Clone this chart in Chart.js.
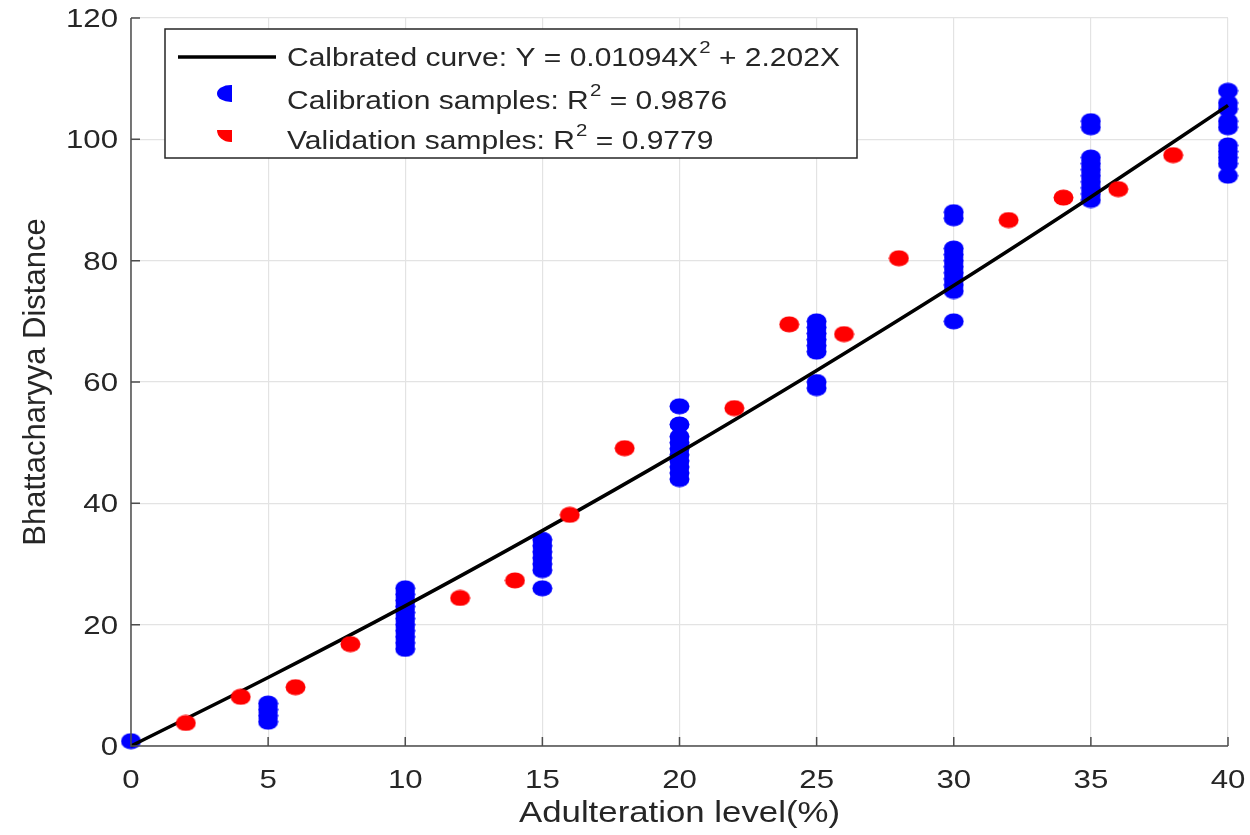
<!DOCTYPE html>
<html>
<head>
<meta charset="utf-8">
<script src="https://cdn.jsdelivr.net/npm/chart.js@4.4.1/dist/chart.umd.min.js"></script>
<style>
  html, body { margin: 0; padding: 0; background: #fff; }
  #wrap { width: 1250px; height: 835px; }
</style>
</head>
<body>
<div id="wrap"><canvas id="graphe"></canvas></div>
<script>
// Calibration samples (blue)
var calX = [0,
  5, 5, 5, 5,
  10, 10, 10, 10, 10, 10, 10, 10, 10, 10, 10,
  15, 15, 15, 15, 15, 15, 15,
  20, 20, 20, 20, 20, 20, 20, 20, 20, 20,
  25, 25, 25, 25, 25, 25, 25, 25,
  30, 30, 30, 30, 30, 30, 30, 30, 30, 30, 30,
  35, 35, 35, 35, 35, 35, 35, 35, 35, 35,
  40, 40, 40, 40, 40, 40, 40, 40, 40, 40];
var calY = [0.8,
  4, 5, 6, 7,
  16, 17, 18, 19, 20, 21, 22, 23, 24, 25, 26,
  34, 33, 32, 31, 30, 29, 26,
  56, 53, 51, 50, 49, 48, 47, 46, 45, 44,
  70, 69, 68, 67, 66, 65, 60, 59,
  88, 87, 82, 81, 80, 79, 78, 77, 76, 75, 70,
  103, 102, 97, 96, 95, 94, 93, 92, 91, 90,
  108, 106, 105, 103, 102, 99, 98, 97, 96, 94];

// Validation samples (red)
var valX = [2, 4, 6, 8, 12, 14, 16, 18, 22, 24, 26, 28, 32, 34, 36, 38];
var valY = [3.8, 8.1, 9.7, 16.8, 24.4, 27.3, 38.1, 49.1, 55.7, 69.5, 67.9, 80.4, 86.7, 90.4, 91.8, 97.4];

// Calibrated curve, values
var curveX = [0, 5, 10, 15, 20, 25, 30, 35, 40];
var curveY = [0, 11.3, 23.1, 35.5, 48.4, 61.9, 75.9, 90.5, 105.6];

var xTicks = [0, 5, 10, 15, 20, 25, 30, 35, 40];
var yTicks = [0, 20, 40, 60, 80, 100, 120];

var xTitle = 'Adulteration level(%)';
var yTitle = 'Bhattacharyya Distance';
var legendLabels = [
  ['Calbrated curve: Y = 0.01094X', '2', ' + 2.202X'],
  ['Calibration samples: R', '2', ' = 0.9876'],
  ['Validation samples: R', '2', ' = 0.9779']
];

var police = '"Liberation Sans", Arial, Helvetica, sans-serif';
var gris = '#262626';
var etire = 1.2; // l'image d'origine est etiree en largeur

// marqueur en ellipse
function ellipse(couleur) {
  var c = document.createElement('canvas');
  c.width = 21; c.height = 17;
  var g = c.getContext('2d');
  g.fillStyle = couleur;
  g.beginPath();
  g.ellipse(10.5, 8.5, 10, 8, 0, 0, Math.PI * 2);
  g.fill();
  return c;
}

function toPoints(xs, ys) {
  return xs.map(function (x, i) { return { x: x, y: ys[i] }; });
}

function texte(ctx, txt, x, y, align) {
  ctx.save();
  ctx.translate(x, y);
  ctx.scale(etire, 1);
  ctx.textAlign = align;
  ctx.fillText(txt, 0, 0);
  ctx.restore();
}

// axes, graduations interieures et libelles facon MATLAB
var axesPlugin = {
  id: 'axesMatlab',
  afterDatasetsDraw: function (chart) {
    var ctx = chart.ctx, a = chart.chartArea;
    var sx = chart.scales.x, sy = chart.scales.y;
    ctx.save();
    ctx.strokeStyle = '#4d4d4d';
    ctx.lineWidth = 1.5;
    ctx.beginPath();
    ctx.moveTo(a.left, a.top);
    ctx.lineTo(a.left, a.bottom);
    ctx.lineTo(a.right, a.bottom);
    xTicks.forEach(function (t) {
      var px = sx.getPixelForValue(t);
      ctx.moveTo(px, a.bottom);
      ctx.lineTo(px, a.bottom - 9);
    });
    yTicks.forEach(function (t) {
      var py = sy.getPixelForValue(t);
      ctx.moveTo(a.left, py);
      ctx.lineTo(a.left + 9, py);
    });
    ctx.stroke();

    ctx.fillStyle = gris;
    ctx.textBaseline = 'alphabetic';
    ctx.font = '26px ' + police;
    xTicks.forEach(function (t) {
      texte(ctx, String(t), sx.getPixelForValue(t), a.bottom + 42, 'center');
    });
    yTicks.forEach(function (t) {
      texte(ctx, String(t), a.left - 13, sy.getPixelForValue(t) + 9, 'right');
    });

    ctx.font = '29px ' + police;
    texte(ctx, xTitle, (a.left + a.right) / 2, 822, 'center');

    ctx.save();
    ctx.translate(45, (a.top + a.bottom) / 2);
    ctx.rotate(-Math.PI / 2);
    ctx.font = '31px ' + police;
    ctx.textAlign = 'center';
    ctx.fillText(yTitle, 0, 0);
    ctx.restore();
    ctx.restore();
  }
};

// legende dans le cadre, avec exposants
var legendePlugin = {
  id: 'legende',
  afterDraw: function (chart) {
    var ctx = chart.ctx;
    var bx = 165, by = 29, bw = 692, bh = 129;
    ctx.save();
    ctx.fillStyle = '#fff';
    ctx.fillRect(bx, by, bw, bh);
    ctx.strokeStyle = '#262626';
    ctx.lineWidth = 1.5;
    ctx.strokeRect(bx, by, bw, bh);

    // trait de la courbe
    ctx.strokeStyle = '#000';
    ctx.lineWidth = 3.5;
    ctx.beginPath();
    ctx.moveTo(178, 57);
    ctx.lineTo(276, 57);
    ctx.stroke();

    // demi-points (coupes comme dans l'original)
    ctx.save();
    ctx.beginPath();
    ctx.rect(210, 80, 22, 26);
    ctx.clip();
    ctx.fillStyle = '#0000ff';
    ctx.beginPath();
    ctx.ellipse(231, 93.5, 14, 8.5, 0, 0, Math.PI * 2);
    ctx.fill();
    ctx.restore();

    ctx.save();
    ctx.beginPath();
    ctx.rect(210, 130, 22, 16);
    ctx.clip();
    ctx.fillStyle = '#ff0000';
    ctx.beginPath();
    ctx.ellipse(231, 130, 14, 12, 0, 0, Math.PI * 2);
    ctx.fill();
    ctx.restore();

    var rows = [57, 100, 140];
    ctx.fillStyle = gris;
    ctx.textBaseline = 'middle';
    legendLabels.forEach(function (parts, i) {
      ctx.save();
      ctx.translate(287, rows[i] + 2);
      ctx.scale(etire, 1);
      var x = 0;
      ctx.font = '25px ' + police;
      ctx.fillText(parts[0], x, 0);
      x += ctx.measureText(parts[0]).width;
      ctx.font = '17px ' + police;
      ctx.fillText(parts[1], x + 1, -11);
      x += ctx.measureText(parts[1]).width + 1;
      ctx.font = '25px ' + police;
      ctx.fillText(parts[2], x, 0);
      ctx.restore();
    });
    ctx.restore();
  }
};

var ctx1 = document.getElementById('graphe').getContext('2d');
var myChart = new Chart(ctx1, {
  type: 'scatter',
  data: {
    datasets: [{
      label: 'Validation samples',
      data: toPoints(valX, valY),
      pointStyle: ellipse('#ff0000'),
      pointRadius: 10
    }, {
      type: 'line',
      label: 'Calbrated curve',
      data: toPoints(curveX, curveY),
      borderColor: '#000',
      borderWidth: 3.5,
      pointRadius: 0,
      fill: false,
      cubicInterpolationMode: 'monotone'
    }, {
      label: 'Calibration samples',
      data: toPoints(calX, calY),
      pointStyle: ellipse('#0000ff'),
      pointRadius: 10
    }]
  },
  options: {
    responsive: true,
    maintainAspectRatio: false,
    animation: false,
    clip: false,
    layout: { padding: { top: 18, right: 22, left: 0, bottom: 0 } },
    plugins: {
      legend: { display: false },
      tooltip: { enabled: false }
    },
    scales: {
      x: {
        type: 'linear',
        min: 0, max: 40,
        afterBuildTicks: function (s) { s.ticks = xTicks.map(function (v) { return { value: v }; }); },
        afterFit: function (s) { s.height = 89; },
        grid: { color: '#e3e3e3', lineWidth: 1.2, drawTicks: false },
        border: { display: false },
        ticks: { display: false }
      },
      y: {
        type: 'linear',
        min: 0, max: 120,
        afterBuildTicks: function (s) { s.ticks = yTicks.map(function (v) { return { value: v }; }); },
        afterFit: function (s) { s.width = 131; },
        grid: { color: '#e3e3e3', lineWidth: 1.2, drawTicks: false },
        border: { display: false },
        ticks: { display: false }
      }
    }
  },
  plugins: [axesPlugin, legendePlugin]
});
</script>
</body>
</html>
